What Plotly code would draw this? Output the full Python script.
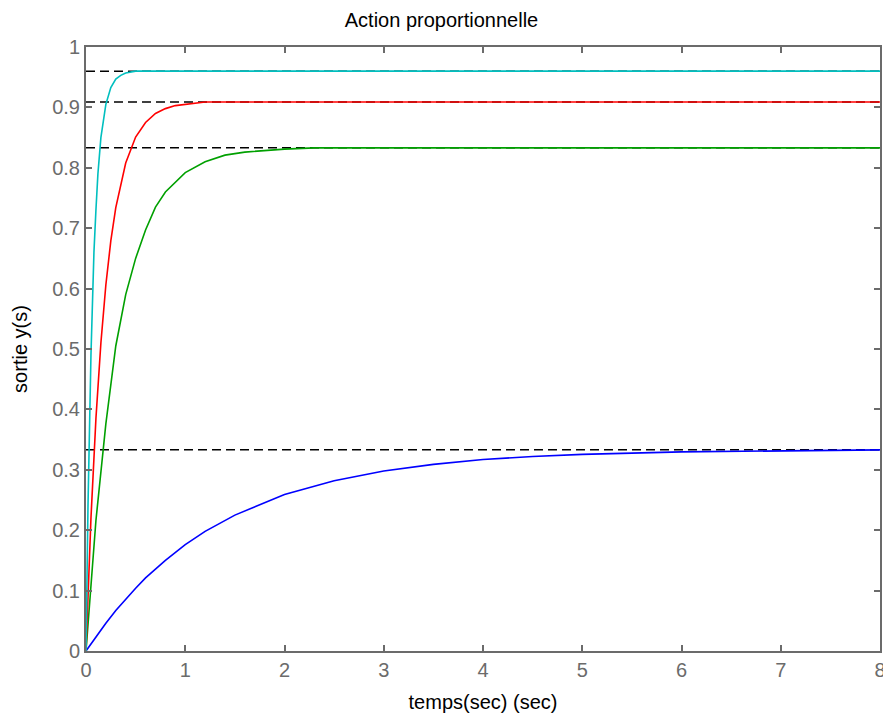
import plotly.graph_objects as go

# Step responses
t_cyan = [0, 0.02, 0.05, 0.08, 0.1, 0.12, 0.15, 0.2, 0.25, 0.3, 0.35, 0.4, 0.5, 8]
y_cyan = [0, 0.24, 0.49, 0.66, 0.73, 0.79, 0.85, 0.905, 0.933, 0.947, 0.953, 0.957, 0.96, 0.96]

t_red = [0, 0.05, 0.1, 0.15, 0.2, 0.25, 0.3, 0.4, 0.5, 0.6, 0.7, 0.8, 0.9, 1.0, 1.1, 1.2, 8]
y_red = [0, 0.22, 0.385, 0.51, 0.606, 0.679, 0.734, 0.808, 0.851, 0.875, 0.89, 0.898, 0.903, 0.905, 0.908, 0.909, 0.909]

t_green = [0, 0.1, 0.2, 0.3, 0.4, 0.5, 0.6, 0.7, 0.8, 1.0, 1.2, 1.4, 1.6, 1.8, 2.0, 2.3, 8]
y_green = [0, 0.216, 0.376, 0.505, 0.59, 0.65, 0.697, 0.735, 0.76, 0.792, 0.81, 0.821, 0.826, 0.829, 0.831, 0.833, 0.833]

t_blue = [0, 0.1, 0.2, 0.3, 0.4, 0.5, 0.6, 0.8, 1.0, 1.2, 1.5, 2.0, 2.5, 3.0, 3.5, 4.0, 4.5, 5, 6, 7, 8]
y_blue = [0, 0.024, 0.046, 0.067, 0.086, 0.104, 0.121, 0.15, 0.176, 0.198, 0.225, 0.259, 0.282, 0.298, 0.309, 0.317, 0.322, 0.3255, 0.3296, 0.3316, 0.333]

final_values = [0.96, 0.909, 0.833, 0.333]
x_ticks = [0, 1, 2, 3, 4, 5, 6, 7, 8]
y_ticks = [0, 0.1, 0.2, 0.3, 0.4, 0.5, 0.6, 0.7, 0.8, 0.9, 1]
y_tick_text = ["0", "0.1", "0.2", "0.3", "0.4", "0.5", "0.6", "0.7", "0.8", "0.9", "1"]

FONT = "Liberation Sans, Arial"

fig = go.Figure()
for v in final_values:
    fig.add_trace(go.Scatter(x=[0, 8], y=[v, v], mode="lines",
                             line=dict(color="black", width=1.5, dash="9px,5px"),
                             showlegend=False, hoverinfo="skip"))

for t, y, c in [(t_blue, y_blue, "#0000FF"), (t_green, y_green, "#00A000"),
                (t_red, y_red, "#FF0000"), (t_cyan, y_cyan, "#00BFBF")]:
    fig.add_trace(go.Scatter(x=t, y=y, mode="lines", line=dict(color=c, width=1.6),
                             showlegend=False))

axis_common = dict(showgrid=False, zeroline=False, showline=True, linecolor="#6b6b6b",
                   linewidth=2, mirror="ticks", ticks="inside", ticklen=6,
                   tickcolor="#6b6b6b", tickwidth=2, automargin=False,
                   ticklabeloverflow="allow",
                   tickfont=dict(family=FONT, size=20, color="#6b6b6b"))

fig.update_layout(
    width=883, height=713,
    margin=dict(l=86, r=3, t=47, b=62),
    paper_bgcolor="white", plot_bgcolor="white",
    title=dict(text="Action proportionnelle", x=0.5, xanchor="center",
               y=1 - 20 / 713, yref="container", yanchor="middle",
               font=dict(family=FONT, size=20, color="black")),
    xaxis=dict(range=[0, 8], tickvals=x_ticks,
               title=dict(text="temps(sec) (sec)", standoff=16,
                          font=dict(family=FONT, size=20, color="black")),
               **axis_common),
    yaxis=dict(range=[0, 1], tickvals=y_ticks, ticktext=y_tick_text,
               title=dict(text="sortie y(s)", standoff=19,
                          font=dict(family=FONT, size=20, color="black")),
               **axis_common),
)

fig.write_html("out.html", config={"displayModeBar": False},
               post_script="document.body.style.margin='0';")
